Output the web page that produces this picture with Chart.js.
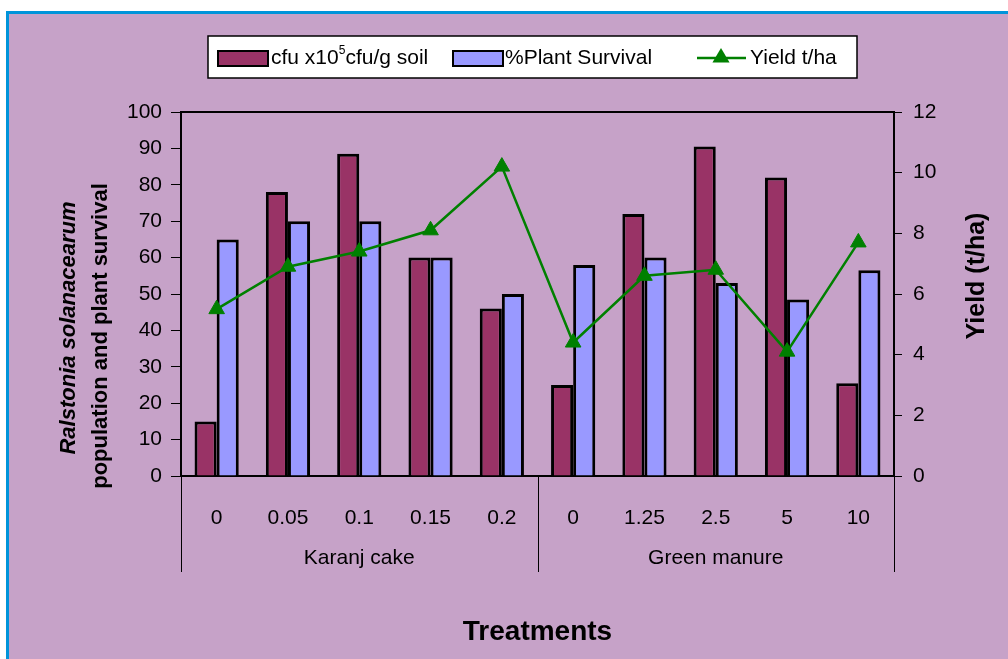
<!DOCTYPE html>
<html>
<head>
<meta charset="utf-8">
<script src="https://cdn.jsdelivr.net/npm/chart.js@4"></script>
<style>
body{margin:0;background:#fff;overflow:hidden;}
.frame{position:absolute;left:6px;top:11px;right:0;bottom:0;background:#c6a2c8;border-top:3px solid #0094da;border-left:3px solid #0094da;}
canvas{position:absolute;left:0;top:0;}
</style>
</head>
<body>
<div class="frame"></div>
<canvas id="chart" width="1008" height="659"></canvas>
<script>
const treatments = ["0", "0.05", "0.1", "0.15", "0.2", "0", "1.25", "2.5", "5", "10"];
const groups = ["Karanj cake", "Green manure"];
const groupSizes = [5, 5];

const cfu = [15, 78, 88.5, 60, 46, 25, 72, 90.5, 82, 25.5];
const survival = [65, 70, 70, 60, 50, 58, 60, 53, 48.5, 56.5];
const yieldTha = [5.5, 6.9, 7.4, 8.1, 10.2, 4.4, 6.6, 6.8, 4.1, 7.7];

const leftMax = 100, leftStep = 10;
const rightMax = 12, rightStep = 2;

const FONT = "'Liberation Sans', Arial, sans-serif";
const PURPLE = "#993366", LAV = "#9999ff", GREEN = "#008000";

function triangle(ctx, x, y, r){
	ctx.beginPath();
	ctx.moveTo(x, y - r);
	ctx.lineTo(x + r * 0.95, y + r * 0.6);
	ctx.lineTo(x - r * 0.95, y + r * 0.6);
	ctx.closePath();
	ctx.fill();
}

const decor = {
	id: "decor",
	afterDraw(chart){
		const ctx = chart.ctx;
		const a = chart.chartArea;
		const xs = chart.scales.x;
		ctx.save();

		// top frame line
		ctx.strokeStyle = "#000";
		ctx.lineWidth = 2;
		ctx.beginPath();
		ctx.moveTo(a.left - 1, a.top);
		ctx.lineTo(a.right + 1, a.top);
		ctx.stroke();

		// group separators and labels
		ctx.lineWidth = 1;
		ctx.fillStyle = "#000";
		ctx.font = "21px " + FONT;
		ctx.textAlign = "center";
		ctx.textBaseline = "middle";
		let start = 0;
		const edges = [a.left];
		groups.forEach((g, i) => {
			const end = start + groupSizes[i] - 1;
			const cx = (xs.getPixelForValue(start) + xs.getPixelForValue(end)) / 2;
			ctx.fillText(g, cx, a.bottom + 82);
			if(i < groups.length - 1){
				edges.push((xs.getPixelForValue(end) + xs.getPixelForValue(end + 1)) / 2);
			}
			start = end + 1;
		});
		edges.push(a.right);
		edges.forEach(ex => {
			ctx.beginPath();
			ctx.moveTo(Math.round(ex) + 0.5, a.bottom);
			ctx.lineTo(Math.round(ex) + 0.5, a.bottom + 96);
			ctx.stroke();
		});

		// axis titles
		ctx.font = "bold 28px " + FONT;
		ctx.fillText("Treatments", (a.left + a.right) / 2, 632);

		ctx.save();
		ctx.translate(69, 328);
		ctx.rotate(-Math.PI / 2);
		ctx.font = "italic bold 22px " + FONT;
		ctx.fillText("Ralstonia solanacearum", 0, 0);
		ctx.restore();

		ctx.save();
		ctx.translate(101, 336);
		ctx.rotate(-Math.PI / 2);
		ctx.font = "bold 22px " + FONT;
		ctx.fillText("population and plant survival", 0, 0);
		ctx.restore();

		ctx.save();
		ctx.translate(977, 276);
		ctx.rotate(-Math.PI / 2);
		ctx.font = "bold 25px " + FONT;
		ctx.fillText("Yield (t/ha)", 0, 0);
		ctx.restore();

		// legend
		ctx.fillStyle = "#fff";
		ctx.fillRect(208, 36, 649, 42);
		ctx.strokeStyle = "#000";
		ctx.lineWidth = 1.5;
		ctx.strokeRect(208, 36, 649, 42);

		const ly = 58;
		ctx.textAlign = "left";
		ctx.lineWidth = 2;
		ctx.fillStyle = PURPLE;
		ctx.fillRect(218, ly - 7, 50, 15);
		ctx.strokeRect(218, ly - 7, 50, 15);
		ctx.fillStyle = LAV;
		ctx.fillRect(453, ly - 7, 50, 15);
		ctx.strokeRect(453, ly - 7, 50, 15);

		ctx.fillStyle = "#000";
		ctx.font = "21px " + FONT;
		let tx = 271;
		ctx.fillText("cfu x10", tx, ly);
		tx += ctx.measureText("cfu x10").width;
		ctx.font = "12px " + FONT;
		ctx.fillText("5", tx, ly - 7);
		tx += ctx.measureText("5").width;
		ctx.font = "21px " + FONT;
		ctx.fillText("cfu/g soil", tx, ly);
		ctx.fillText("%Plant Survival", 505, ly);
		ctx.fillText("Yield t/ha", 750, ly);

		ctx.strokeStyle = GREEN;
		ctx.lineWidth = 2.5;
		ctx.beginPath();
		ctx.moveTo(697, ly);
		ctx.lineTo(746, ly);
		ctx.stroke();
		ctx.fillStyle = GREEN;
		triangle(ctx, 721, ly - 1, 9);

		ctx.restore();
	}
};

new Chart(document.getElementById("chart").getContext("2d"), {
	data: {
		labels: treatments,
		datasets: [
			{
				type: "bar",
				label: "cfu x10^5cfu/g soil",
				data: cfu,
				backgroundColor: PURPLE,
				borderColor: "#000",
				borderWidth: 3,
				yAxisID: "y",
				order: 2,
				categoryPercentage: 0.62,
				barPercentage: 1
			},
			{
				type: "bar",
				label: "%Plant Survival",
				data: survival,
				backgroundColor: LAV,
				borderColor: "#000",
				borderWidth: 3,
				yAxisID: "y",
				order: 2,
				categoryPercentage: 0.62,
				barPercentage: 1
			},
			{
				type: "line",
				label: "Yield t/ha",
				data: yieldTha,
				borderColor: GREEN,
				backgroundColor: GREEN,
				borderWidth: 2.5,
				pointStyle: "triangle",
				pointRadius: 9,
				pointBorderWidth: 1,
				tension: 0,
				yAxisID: "y1",
				order: 1
			}
		]
	},
	options: {
		responsive: false,
		animation: false,
		devicePixelRatio: 1,
		layout: { padding: { top: 112, left: 0, right: 0, bottom: 0 } },
		plugins: {
			legend: { display: false },
			tooltip: { enabled: false }
		},
		scales: {
			x: {
				afterFit: s => { s.height = 183; },
				grid: { display: false, drawTicks: false },
				border: { display: true, color: "#000", width: 2 },
				ticks: { color: "#000", font: { family: FONT, size: 21 }, padding: 30, maxRotation: 0, autoSkip: false }
			},
			y: {
				position: "left",
				min: 0,
				max: leftMax,
				afterFit: s => { s.width = 181; },
				grid: { drawOnChartArea: false, drawTicks: true, tickLength: 10, color: "#000", lineWidth: 1 },
				border: { display: true, color: "#000", width: 2 },
				ticks: { stepSize: leftStep, color: "#000", font: { family: FONT, size: 21 }, padding: 9 }
			},
			y1: {
				position: "right",
				min: 0,
				max: rightMax,
				afterFit: s => { s.width = 114; },
				grid: { drawOnChartArea: false, drawTicks: true, tickLength: 8, color: "#000", lineWidth: 1 },
				border: { display: true, color: "#000", width: 2 },
				ticks: { stepSize: rightStep, color: "#000", font: { family: FONT, size: 21 }, padding: 11 }
			}
		}
	},
	plugins: [decor]
});
</script>
</body>
</html>
